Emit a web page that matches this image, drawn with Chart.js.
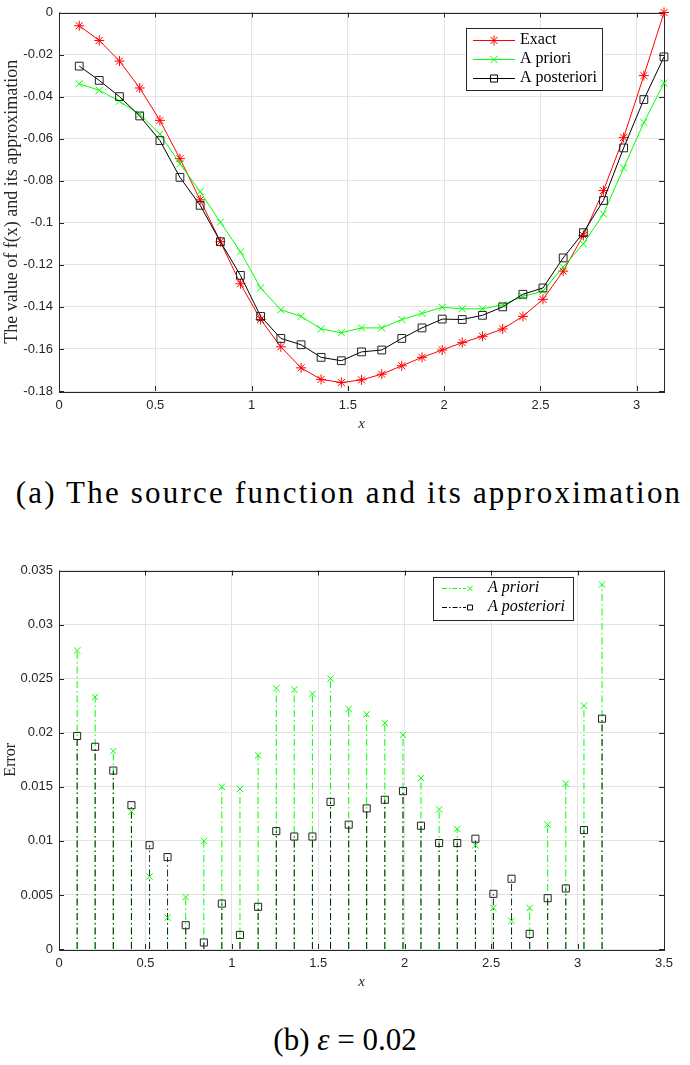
<!DOCTYPE html>
<html>
<head>
<meta charset="utf-8">
<script src="https://cdn.jsdelivr.net/npm/chart.js@4.4.1/dist/chart.umd.min.js"></script>
<style>
    body { margin: 0; background: #fff; width: 690px; height: 1065px; position: relative; overflow: hidden; }
    .box { position: absolute; left: 0; width: 690px; height: 440px; }
    .cap { position: absolute; left: 0; width: 690px; text-align: center; font-family: "Liberation Serif", "Times New Roman", "DejaVu Serif", serif; color: #000; line-height: 36px; white-space: nowrap; }
</style>
</head>
<body>
<div class="box" style="top:0"><canvas id="fnChart" width="690" height="440"></canvas></div>
<div class="cap" style="top:475px; left:4px; font-size:31px; letter-spacing:2.2px;">(a) The source function and its approximation</div>
<div class="box" style="top:558px"><canvas id="errChart" width="690" height="440"></canvas></div>
<div class="cap" style="top:1022px; font-size:31px;">(b) <i>ε</i> = 0.02</div>

<script>
// sample points x_k (30 nodes on (0, pi])
const xs = [0.105, 0.209, 0.314, 0.419, 0.524, 0.628, 0.733, 0.838, 0.942, 1.047,
            1.152, 1.257, 1.361, 1.466, 1.571, 1.676, 1.780, 1.885, 1.990, 2.094,
            2.199, 2.304, 2.409, 2.513, 2.618, 2.723, 2.827, 2.932, 3.037, 3.1416];

// (a) source function and its approximations
const exact = [-0.0063, -0.0133, -0.0231, -0.0359, -0.0513, -0.0695, -0.0891, -0.1090, -0.1290, -0.1460,
               -0.1590, -0.1690, -0.1745, -0.1760, -0.1747, -0.1720, -0.1680, -0.1640, -0.1605, -0.1570,
               -0.1540, -0.1505, -0.1445, -0.1364, -0.1230, -0.1060, -0.0847, -0.0594, -0.0300, 0.0000];
const aPriori = [-0.0339, -0.0370, -0.0422, -0.0484, -0.0578, -0.0719, -0.0852, -0.0997, -0.1138, -0.1310,
                 -0.1414, -0.1445, -0.1505, -0.1523, -0.1500, -0.1500, -0.1460, -0.1431, -0.1402, -0.1409,
                 -0.1409, -0.1390, -0.1350, -0.1325, -0.1210, -0.1100, -0.0958, -0.0739, -0.0523, -0.0336];
const aPosteriori = [-0.0255, -0.0323, -0.0400, -0.0492, -0.0609, -0.0784, -0.0917, -0.1090, -0.1250, -0.1445,
                     -0.1550, -0.1580, -0.1640, -0.1656, -0.1614, -0.1605, -0.1550, -0.1500, -0.1458, -0.1460,
                     -0.1440, -0.1400, -0.1340, -0.1310, -0.1167, -0.1047, -0.0894, -0.0644, -0.0414, -0.0211];

// (b) errors, eps = 0.02
const errPriori = [0.0276, 0.0233, 0.0183, 0.0127, 0.0067, 0.0029, 0.0048, 0.0100, 0.0150, 0.0148,
                   0.0179, 0.0241, 0.0240, 0.0236, 0.0250, 0.0222, 0.0217, 0.0209, 0.0198, 0.0158,
                   0.0129, 0.0111, 0.0096, 0.0038, 0.0026, 0.0038, 0.0115, 0.0153, 0.0225, 0.0337];
const errPosteriori = [0.0197, 0.0187, 0.0165, 0.0133, 0.0096, 0.0085, 0.0022, 0.0006, 0.0042, 0.0013,
                       0.0039, 0.0109, 0.0104, 0.0104, 0.0136, 0.0115, 0.0130, 0.0138, 0.0146, 0.0114,
                       0.0098, 0.0098, 0.0102, 0.0051, 0.0065, 0.0014, 0.0047, 0.0056, 0.0110, 0.0213];

// tick labels
const fnXTicks = [0, 0.5, 1, 1.5, 2, 2.5, 3];
const fnYTicks = [0, -0.02, -0.04, -0.06, -0.08, -0.1, -0.12, -0.14, -0.16, -0.18];
const errXTicks = [0, 0.5, 1, 1.5, 2, 2.5, 3, 3.5];
const errYTicks = [0, 0.005, 0.01, 0.015, 0.02, 0.025, 0.03, 0.035];

const AXIS = '#262626';
const GRID = '#e3e3e3';
const RED = '#ff0000', GREEN = '#00ff00', BLACK = '#000000';
const DASHDOT = [7, 3, 1.5, 3];

const toPoints = (vals) => xs.map((x, i) => ({ x: x, y: vals[i] }));
// stem segments: (x,0) -> (x,v), broken by a gap
const toStems = (vals) => {
    const out = [];
    xs.forEach((x, i) => {
        out.push({ x: x, y: 0 }, { x: x, y: vals[i] }, { x: x, y: null });
    });
    return out;
};
const fmt = (v) => String(Number(Number(v).toFixed(4)));

// box + inward ticks like MATLAB
const framePlugin = {
    id: 'frame',
    beforeDatasetsDraw(chart) {
        const { ctx, chartArea: a, scales } = chart;
        const len = 5;
        ctx.save();
        ctx.strokeStyle = AXIS;
        ctx.lineWidth = 1;
        ctx.beginPath();
        scales.x.ticks.forEach(t => {
            const px = Math.round(scales.x.getPixelForValue(t.value)) + 0.5;
            ctx.moveTo(px, a.bottom); ctx.lineTo(px, a.bottom - len);
            ctx.moveTo(px, a.top); ctx.lineTo(px, a.top + len);
        });
        scales.y.ticks.forEach(t => {
            const py = Math.round(scales.y.getPixelForValue(t.value)) + 0.5;
            ctx.moveTo(a.left, py); ctx.lineTo(a.left + len, py);
            ctx.moveTo(a.right, py); ctx.lineTo(a.right - len, py);
        });
        ctx.stroke();
        ctx.strokeRect(Math.round(a.left) + 0.5, Math.round(a.top) + 0.5,
                       Math.round(a.right - a.left), Math.round(a.bottom - a.top));
        ctx.restore();
    }
};

// boxed legend inside the axes
const boxLegend = {
    id: 'boxLegend',
    afterDatasetsDraw(chart, args, o) {
        if (!o || !o.w) return;
        const ctx = chart.ctx;
        const items = chart.data.datasets.filter(d => d.label);
        ctx.save();
        ctx.fillStyle = '#fff';
        ctx.fillRect(o.x, o.y, o.w, o.h);
        ctx.strokeStyle = AXIS;
        ctx.lineWidth = 1;
        ctx.strokeRect(o.x + 0.5, o.y + 0.5, o.w, o.h);
        items.forEach((d, i) => {
            const cy = o.y + o.firstRow + i * o.rowH;
            const x0 = o.x + o.lineStart, x1 = x0 + o.lineLen;
            ctx.strokeStyle = d.borderColor;
            ctx.lineWidth = 1;
            ctx.setLineDash(o.dash || []);
            ctx.beginPath();
            ctx.moveTo(x0, cy + 0.5);
            ctx.lineTo(o.markerAtEnd ? x1 - 4 : x1, cy + 0.5);
            ctx.stroke();
            ctx.setLineDash([]);
            const mx = o.markerAtEnd ? x1 : (x0 + x1) / 2;
            ctx.fillStyle = 'rgba(0,0,0,0)';
            Chart.helpers.drawPoint(ctx, {
                pointStyle: d.pointStyle,
                radius: o.markerR,
                borderWidth: 1,
                rotation: 0
            }, mx, cy + 0.5);
            ctx.fillStyle = '#000';
            ctx.font = o.font;
            ctx.textBaseline = 'middle';
            ctx.fillText(d.label, o.x + o.textX, cy);
        });
        ctx.restore();
    }
};

function axisOpts(min, max, ticks, title, isY, titleFont) {
    return {
        type: 'linear',
        min: min,
        max: max,
        afterBuildTicks: s => { s.ticks = ticks.map(v => ({ value: v })); },
        afterFit: s => { if (isY) s.width = 59; else s.height = 49; },
        grid: { color: GRID, lineWidth: 1, drawTicks: false },
        border: { display: false },
        ticks: {
            color: AXIS,
            padding: isY ? 6 : 8,
            maxRotation: 0,
            autoSkip: false,
            font: { family: '"Liberation Sans", Arial, sans-serif', size: 13, lineHeight: 1 },
            callback: v => fmt(v)
        },
        title: {
            display: true,
            text: title,
            color: AXIS,
            font: titleFont,
            padding: isY ? { top: 1 } : { bottom: 7 }
        }
    };
}

const serif = '"Liberation Serif", "Times New Roman", serif';

new Chart(document.getElementById('fnChart'), {
    type: 'line',
    data: {
        datasets: [{
            label: 'Exact',
            data: toPoints(exact),
            borderColor: RED,
            borderWidth: 1,
            pointStyle: 'star',
            pointRadius: 5,
            pointBorderWidth: 1,
            pointBorderColor: RED,
            pointBackgroundColor: 'rgba(0,0,0,0)',
            tension: 0,
            clip: false,
            order: 3
        }, {
            label: 'A priori',
            data: toPoints(aPriori),
            borderColor: GREEN,
            borderWidth: 1,
            pointStyle: 'crossRot',
            pointRadius: 5,
            pointBorderWidth: 1,
            pointBorderColor: GREEN,
            pointBackgroundColor: 'rgba(0,0,0,0)',
            tension: 0,
            clip: false,
            order: 2
        }, {
            label: 'A posteriori',
            data: toPoints(aPosteriori),
            borderColor: BLACK,
            borderWidth: 1,
            pointStyle: 'rect',
            pointRadius: 5.5,
            pointBorderWidth: 1,
            pointBorderColor: '#222',
            pointBackgroundColor: 'rgba(0,0,0,0)',
            tension: 0,
            clip: false,
            order: 1
        }]
    },
    options: {
        responsive: false,
        animation: false,
        layout: { padding: { top: 7, right: 26, left: 0, bottom: 0 } },
        scales: {
            x: axisOpts(0, 3.1416, fnXTicks, 'x', false, { family: serif, size: 15, style: 'italic' }),
            y: axisOpts(-0.18, 0, fnYTicks, 'The value of f(x) and its approximation', true, { family: serif, size: 18 })
        },
        plugins: {
            legend: { display: false },
            tooltip: { enabled: false },
            boxLegend: {
                x: 466, y: 28, w: 136, h: 62,
                firstRow: 12, rowH: 19,
                lineStart: 7, lineLen: 42,
                textX: 54, markerR: 5,
                font: '16px "Liberation Serif", serif'
            }
        }
    },
    plugins: [framePlugin, boxLegend]
});

new Chart(document.getElementById('errChart'), {
    type: 'line',
    data: {
        datasets: [{
            label: 'A priori',
            data: toPoints(errPriori),
            borderColor: GREEN,
            showLine: false,
            pointStyle: 'crossRot',
            pointRadius: 4.5,
            pointBorderWidth: 1,
            pointBorderColor: GREEN,
            pointBackgroundColor: 'rgba(0,0,0,0)',
            clip: false,
            order: 1
        }, {
            label: 'A posteriori',
            data: toPoints(errPosteriori),
            borderColor: BLACK,
            showLine: false,
            pointStyle: 'rect',
            pointRadius: 5,
            pointBorderWidth: 1,
            pointBorderColor: '#222',
            pointBackgroundColor: 'rgba(0,0,0,0)',
            clip: false,
            order: 0
        }, {
            data: toStems(errPriori),
            borderColor: GREEN,
            borderWidth: 1,
            borderDash: DASHDOT,
            pointRadius: 0,
            spanGaps: false,
            order: 5
        }, {
            data: toStems(errPosteriori),
            borderColor: 'rgba(0,0,0,0.85)',
            borderWidth: 1,
            borderDash: DASHDOT,
            pointRadius: 0,
            spanGaps: false,
            order: 4
        }]
    },
    options: {
        responsive: false,
        animation: false,
        layout: { padding: { top: 7, right: 26, left: 0, bottom: 0 } },
        scales: {
            x: axisOpts(0, 3.5, errXTicks, 'x', false, { family: serif, size: 15, style: 'italic' }),
            y: axisOpts(0, 0.035, errYTicks, 'Error', true, { family: serif, size: 16 })
        },
        plugins: {
            legend: { display: false },
            tooltip: { enabled: false },
            boxLegend: {
                x: 433, y: 19, w: 140, h: 43,
                firstRow: 11, rowH: 19,
                lineStart: 9, lineLen: 28,
                textX: 55, markerR: 3.5,
                markerAtEnd: true,
                dash: [5, 2, 1.5, 2],
                font: 'italic 16px "Liberation Serif", serif'
            }
        }
    },
    plugins: [framePlugin, boxLegend]
});
</script>
</body>
</html>
